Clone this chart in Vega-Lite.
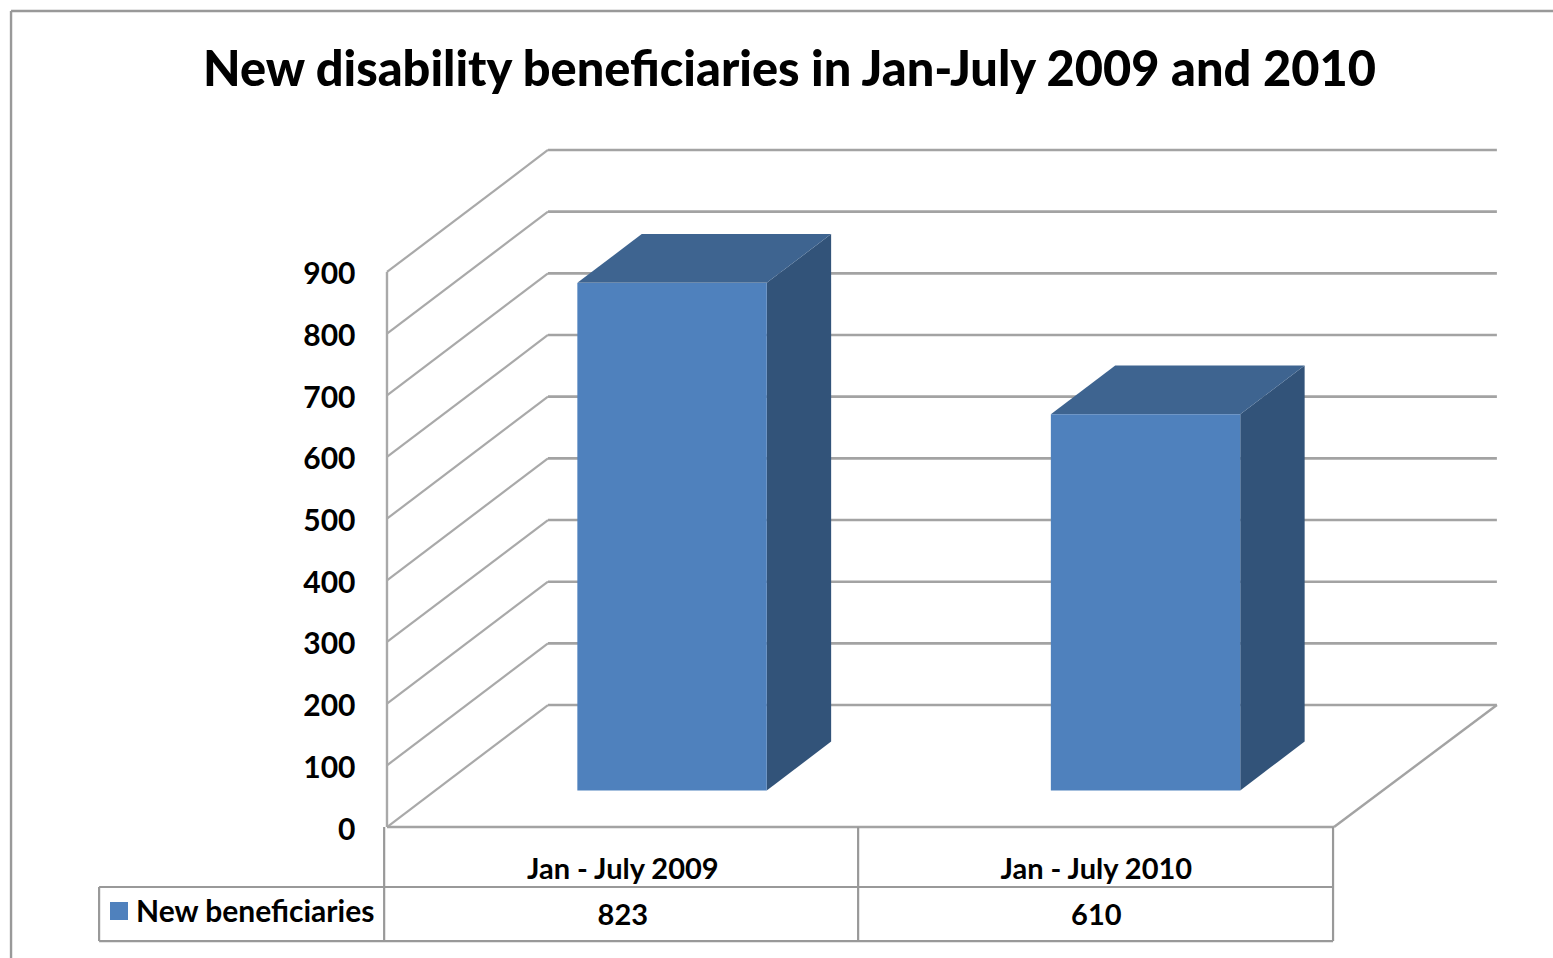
{"$schema":"https://vega.github.io/schema/vega-lite/v6.json","width":1553,"height":958,"autosize":"none","padding":0,"background":"white","config":{"view":{"stroke":null}},
"title":{"text":"New disability  beneficiaries in Jan-July 2009 and 2010","font":"Lato","fontWeight":900,"fontSize":48.7,"color":"#000000","anchor":"middle","frame":"group","dx":13,"offset":-97},
"datasets":{"bars":[{"period":"Jan - July 2009","beneficiaries":823},{"period":"Jan - July 2010","beneficiaries":610}],"grid":[{"tick":0},{"tick":100},{"tick":200},{"tick":300},{"tick":400},{"tick":500},{"tick":600},{"tick":700},{"tick":800},{"tick":900}],"note":[{"part":"frame"}]},
"data":{"name":"bars"},
"layer":[
{"data":{"name":"grid"},"transform":[{"calculate":"datum.tick+197.8","as":"backY"}],"mark":{"type":"rule","color":"#a3a3a3","strokeWidth":2.6},"encoding":{"x":{"datum":0.34,"type":"quantitative","scale":{"domain":[-0.8173,2.4625],"nice":false,"zero":false},"axis":null},"x2":{"datum":2.344},"y":{"field":"backY","type":"quantitative","scale":{"domain":[-212.4,1341],"nice":false,"zero":false},"axis":{"values":[0,100,200,300,400,500,600,700,800,900],"title":null,"domain":false,"ticks":false,"grid":false,"labelPadding":0,"labelOffset":3,"offset":-355,"labelFont":"Lato","labelFontWeight":"bold","labelFontSize":30,"labelColor":"#000000"}}}},
{"data":{"name":"grid"},"transform":[{"calculate":"datum.tick+197.8","as":"backY"}],"mark":{"type":"rule","color":"#a9a9a9","strokeWidth":2.2},"encoding":{"x":{"datum":0,"type":"quantitative"},"x2":{"datum":0.34},"y":{"field":"tick","type":"quantitative"},"y2":{"field":"backY"}}},
{"data":{"name":"note"},"mark":{"type":"rule","color":"#a9a9a9","strokeWidth":2.4},"encoding":{"x":{"datum":0,"type":"quantitative"},"y":{"datum":0,"type":"quantitative"},"y2":{"datum":900}}},
{"data":{"name":"note"},"mark":{"type":"rule","color":"#a3a3a3","strokeWidth":2.6},"encoding":{"x":{"datum":0,"type":"quantitative"},"x2":{"datum":2},"y":{"datum":0,"type":"quantitative"}}},
{"data":{"name":"note"},"mark":{"type":"rule","color":"#a3a3a3","strokeWidth":2.4},"encoding":{"x":{"datum":2,"type":"quantitative"},"x2":{"datum":2.344},"y":{"datum":0,"type":"quantitative"},"y2":{"datum":197.8}}},
{"data":{"name":"note"},"mark":{"type":"rule","color":"#999999","strokeWidth":2.4},"encoding":{"x":{"datum":-0.794,"type":"quantitative"},"x2":{"datum":2.4625},"y":{"datum":1323.2,"type":"quantitative"}}},
{"data":{"name":"note"},"mark":{"type":"rule","color":"#999999","strokeWidth":2.4},"encoding":{"x":{"datum":-0.794,"type":"quantitative"},"y":{"datum":1323.2,"type":"quantitative"},"y2":{"datum":-212.4}}},
{"transform":[{"window":[{"op":"row_number","as":"n"}]},{"calculate":"datum.n-1+0.7","as":"right"},{"calculate":"[0.3,0.7]","as":"d"},{"flatten":["d"]},{"calculate":"datum.right+0.34*datum.d","as":"sx"},{"calculate":"datum.beneficiaries+197.8*datum.d","as":"st"},{"calculate":"197.8*datum.d","as":"sb"}],"mark":{"type":"area","color":"#325379"},"encoding":{"x":{"field":"sx","type":"quantitative"},"y":{"field":"st","type":"quantitative"},"y2":{"field":"sb"},"detail":{"field":"period"}}},
{"transform":[{"window":[{"op":"row_number","as":"n"}]},{"calculate":"[0.3,0.7]","as":"d"},{"flatten":["d"]},{"calculate":"datum.n-1+0.3+0.34*datum.d","as":"lx"},{"calculate":"datum.n-1+0.7+0.34*datum.d","as":"rx"},{"calculate":"datum.beneficiaries+197.8*datum.d","as":"ty"}],"mark":{"type":"area","orient":"horizontal","color":"#3e6490"},"encoding":{"y":{"field":"ty","type":"quantitative"},"x":{"field":"lx","type":"quantitative"},"x2":{"field":"rx"},"detail":{"field":"period"}}},
{"transform":[{"window":[{"op":"row_number","as":"n"}]},{"calculate":"datum.n-1+0.3+0.102","as":"lx"},{"calculate":"datum.n-1+0.7+0.102","as":"rx"},{"calculate":"datum.beneficiaries+59.3","as":"ty"}],"mark":{"type":"rect","color":"#4f81bd"},"encoding":{"x":{"field":"lx","type":"quantitative"},"x2":{"field":"rx"},"y":{"field":"ty","type":"quantitative"},"y2":{"datum":59.3}}},
{"data":{"name":"note"},"mark":{"type":"rule","color":"#999999","strokeWidth":2.2},"encoding":{"x":{"datum":-0.006,"type":"quantitative"},"y":{"datum":0,"type":"quantitative"},"y2":{"datum":-184.9}}},
{"data":{"name":"note"},"mark":{"type":"rule","color":"#999999","strokeWidth":2.2},"encoding":{"x":{"datum":0.995,"type":"quantitative"},"y":{"datum":0,"type":"quantitative"},"y2":{"datum":-184.9}}},
{"data":{"name":"note"},"mark":{"type":"rule","color":"#999999","strokeWidth":2.2},"encoding":{"x":{"datum":1.998,"type":"quantitative"},"y":{"datum":0,"type":"quantitative"},"y2":{"datum":-184.9}}},
{"data":{"name":"note"},"mark":{"type":"rule","color":"#999999","strokeWidth":2.2},"encoding":{"x":{"datum":-0.608,"type":"quantitative"},"y":{"datum":-97.3,"type":"quantitative"},"y2":{"datum":-184.9}}},
{"data":{"name":"note"},"mark":{"type":"rule","color":"#999999","strokeWidth":2.2},"encoding":{"x":{"datum":-0.608,"type":"quantitative"},"x2":{"datum":1.998},"y":{"datum":-97.3,"type":"quantitative"}}},
{"data":{"name":"note"},"mark":{"type":"rule","color":"#999999","strokeWidth":2.2},"encoding":{"x":{"datum":-0.608,"type":"quantitative"},"x2":{"datum":1.998},"y":{"datum":-184.9,"type":"quantitative"}}},
{"transform":[{"window":[{"op":"row_number","as":"n"}]},{"calculate":"datum.n-1+0.498","as":"cx"}],"mark":{"type":"text","font":"Lato","fontWeight":"bold","fontSize":29,"color":"#000000","baseline":"middle"},"encoding":{"x":{"field":"cx","type":"quantitative"},"y":{"datum":-69.7,"type":"quantitative"},"text":{"field":"period"}}},
{"transform":[{"window":[{"op":"row_number","as":"n"}]},{"calculate":"datum.n-1+0.498","as":"cx"}],"mark":{"type":"text","font":"Lato","fontWeight":"bold","fontSize":29,"color":"#000000","baseline":"middle"},"encoding":{"x":{"field":"cx","type":"quantitative"},"y":{"datum":-144.2,"type":"quantitative"},"text":{"field":"beneficiaries","type":"quantitative"}}},
{"data":{"name":"note"},"mark":{"type":"square","color":"#4f81bd","size":324,"opacity":1},"encoding":{"x":{"datum":-0.566,"type":"quantitative"},"y":{"datum":-136.2,"type":"quantitative"}}},
{"data":{"name":"note"},"mark":{"type":"text","font":"Lato","fontWeight":"bold","fontSize":30,"color":"#000000","align":"left","baseline":"middle","text":"New beneficiaries"},"encoding":{"x":{"datum":-0.53,"type":"quantitative"},"y":{"datum":-139.4,"type":"quantitative"}}}
]}
